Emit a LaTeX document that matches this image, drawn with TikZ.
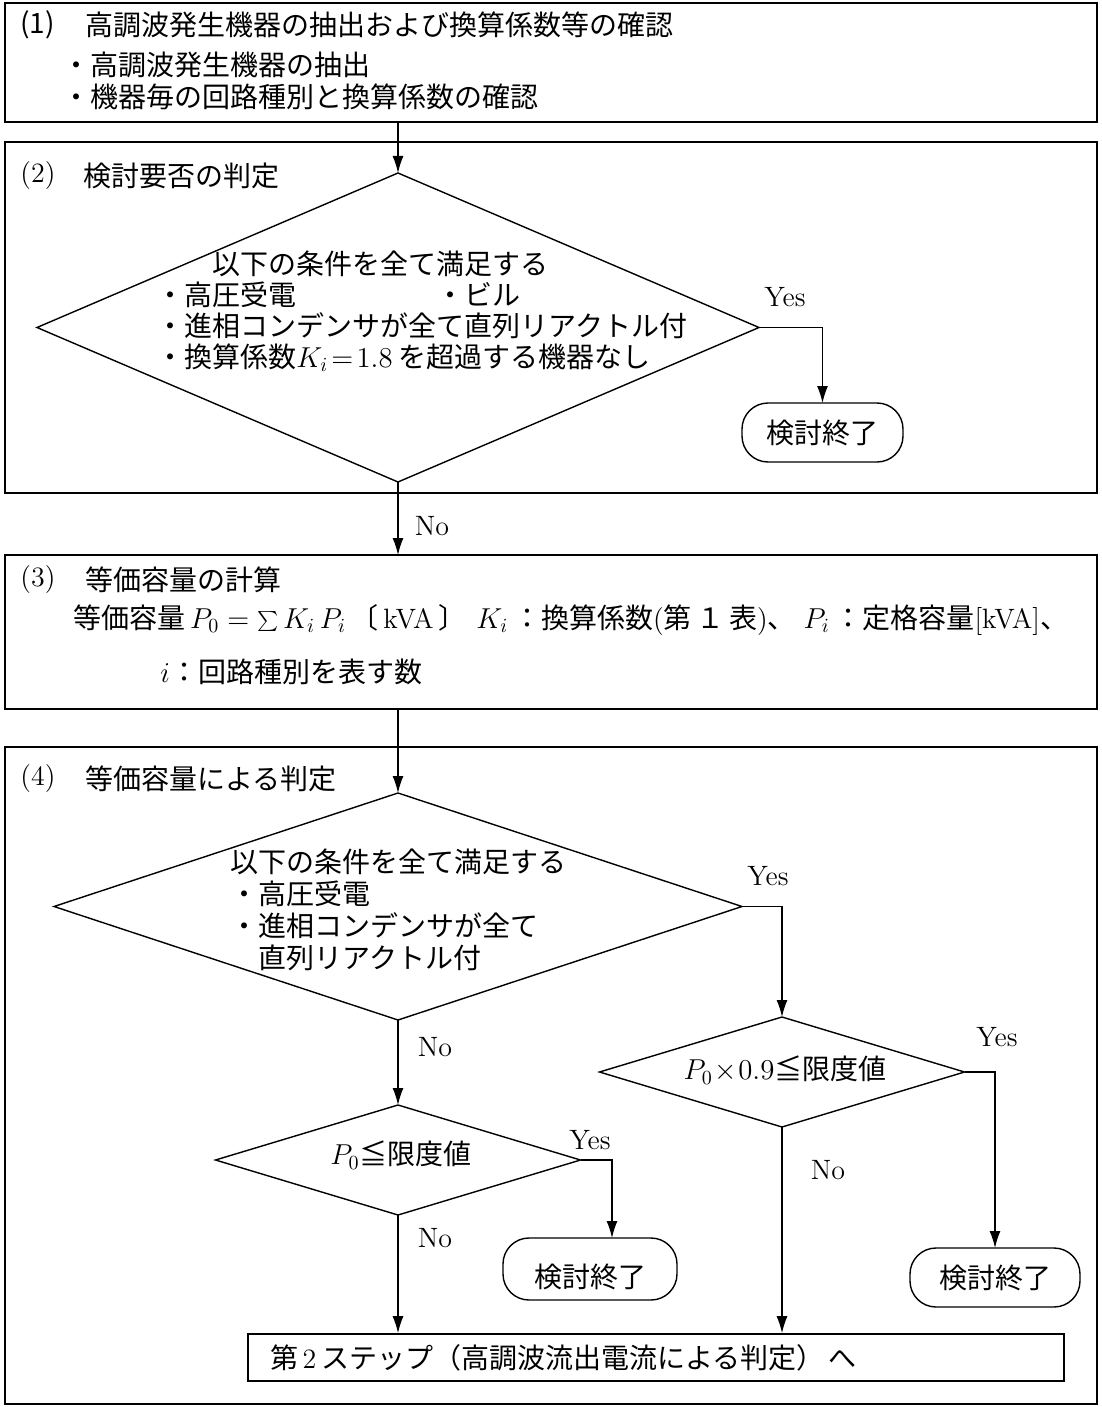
\documentclass[tikz,border=0pt]{standalone}
\usepackage{fontspec}
\newfontfamily\jp{Noto Sans CJK JP}
\usetikzlibrary{shapes.geometric,arrows.meta}
\newcommand{\rmtxt}[1]{{\rmfamily #1}}

\tikzset{
  frame/.style={draw,line width=1pt,minimum width=546pt,inner sep=0pt,outer sep=0pt,anchor=north west},
  cond/.style={draw,diamond,line width=0.7pt,inner sep=0pt,outer sep=0pt},
  term/.style={draw,rectangle,rounded corners=13pt,line width=0.7pt,inner sep=0pt,outer sep=0pt,font=\jp\fontsize{14}{16}\selectfont},
  flow/.style={line width=0.7pt,-{Latex[length=8.5pt,width=5.5pt]}},
  jtxt/.style={font=\jp\fontsize{14}{16}\selectfont,inner sep=0pt},
  ltxt/.style={font=\fontsize{14}{16}\selectfont,inner sep=0pt},
}

\begin{document}
\begin{tikzpicture}[x=0.5pt,y=-0.5pt]
\useasboundingbox (0,0) rectangle (1102,1407);

% Outer frames of the four steps
\node[frame,minimum height=59.5pt] (b1) at (5,3) {};
\node[frame,minimum height=175.5pt] (b2) at (5,142) {};
\node[frame,minimum height=77pt] (b3) at (5,555) {};
\node[frame,minimum height=328.5pt] (b4) at (5,747) {};

% (1) extraction
\node[jtxt,anchor=west] (n1) at (20,25) {(1)};
\node[jtxt,anchor=west] (t1) at (85,25) {高調波発生機器の抽出および換算係数等の確認};
\node[jtxt,anchor=west,align=left] (l1) at (62,81) {・高調波発生機器の抽出\\・機器毎の回路種別と換算係数の確認};

% (2) need of examination
\node[ltxt,anchor=west] (n2) at (20,176) {(2)};
\node[jtxt,anchor=west] (t2) at (83,176) {検討要否の判定};
\node[cond,minimum width=361pt,minimum height=154.5pt] (d1) at (398,327.5) {};
\node[jtxt,anchor=west,align=left,font=\jp\fontsize{14}{15.5}\selectfont] (c1) at (156,311)
  {\hspace*{28pt}以下の条件を全て満足する\\・高圧受電\hspace{70pt}・ビル\\・進相コンデンサが全て直列リアクトル付\\・換算係数$K_i\!=\!1.8$ を超過する機器なし};
\node[term,minimum width=80.5pt,minimum height=29.5pt] (e1) at (822.5,432.5) {検討終了};

% (3) equivalent capacity
\node[ltxt,anchor=west] (n3) at (20,580) {(3)};
\node[jtxt,anchor=west] (t3) at (85,580) {等価容量の計算};
\node[jtxt,anchor=west] (f1) at (73,620)
  {等価容量$\,P_0=\sum K_i\,P_i\,$〔\,\rmtxt{kVA}\,〕\hspace{5pt}$K_i\,$：換算係数\rmtxt{(}第\,１\,表\rmtxt{)}、\hspace{4pt}$P_i\,$：定格容量\rmtxt{[kVA]}、};
\node[jtxt,anchor=west] (f2) at (160,672) {$i$：回路種別を表す数};

% (4) judgement by equivalent capacity
\node[ltxt,anchor=west] (n4) at (20,779) {(4)};
\node[jtxt,anchor=west] (t4) at (85,779) {等価容量による判定};
\node[cond,minimum width=344pt,minimum height=113.5pt] (d2) at (398,906.5) {};
\node[jtxt,anchor=west,align=left] (c2) at (230,910)
  {以下の条件を全て満足する\\・高圧受電\\・進相コンデンサが全て\\\hspace*{14pt}直列リアクトル付};
\node[cond,minimum width=182.5pt,minimum height=55pt] (d3) at (782,1072) {};
\node[jtxt] (c3) at (785,1070) {$P_0\!\times\!0.9$≦限度値};
\node[cond,minimum width=182.5pt,minimum height=55pt] (d4) at (398,1160) {};
\node[jtxt] (c4) at (401,1155) {$P_0$≦限度値};
\node[term,minimum width=87pt,minimum height=31pt] (e2) at (590,1269)
  {\raisebox{-5pt}[0.8em][0.2em]{検討終了}};
\node[term,minimum width=85pt,minimum height=29.5pt] (e3) at (995,1277.5) {検討終了};
\node[draw,line width=0.8pt,text width=386pt,inner xsep=11pt,inner ysep=0pt,minimum height=23.5pt,align=left,
  font=\jp\fontsize{14}{16}\selectfont] (fin) at (656,1357.5) {第\,\rmtxt{2}\,ステップ（高調波流出電流による判定）\,へ};

% Yes / No labels
\foreach \x/\y [count=\k] in {785/297,768/876,997/1037,590/1140}
  \node[ltxt] (yes\k) at (\x,\y) {Yes};
\foreach \x/\y [count=\k] in {432/526,435/1047,828/1170,435/1238}
  \node[ltxt] (no\k) at (\x,\y) {No};

% Connectors
\draw[flow] (d1.north |- b1.south) -- (d1.north);
\draw[flow] (d1.east) -| (e1.north);
\draw[flow] (d1.south) -- (d1.south |- b3.north);
\draw[flow] (d2.north |- b3.south) -- (d2.north);
\draw[flow] (d2.east) -| (d3.north);
\draw[flow] (d3.east) -| (e3.north);
\draw[flow] (d2.south) -- (d4.north);
\draw[flow] (d4.east) -| ([xshift=11pt]e2.north);
\draw[flow] (d4.south) -- (d4.south |- fin.north);
\draw[flow] (d3.south) -- (d3.south |- fin.north);

\end{tikzpicture}
\end{document}
